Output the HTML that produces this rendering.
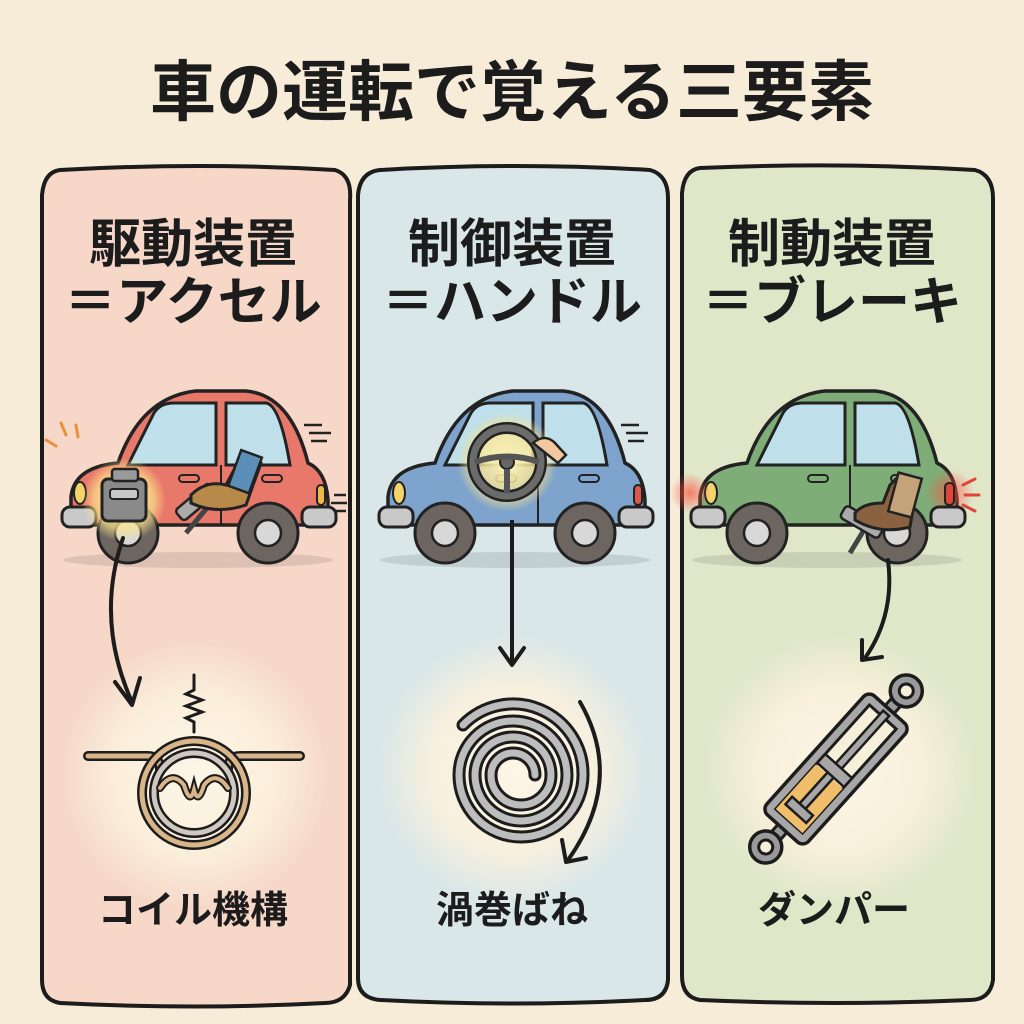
<!DOCTYPE html>
<html><head><meta charset="utf-8"><style>
html,body{margin:0;padding:0;background:#f7ecd7;}
svg{display:block}
text{font-family:"Liberation Sans","Noto Sans CJK JP",sans-serif;font-weight:bold;fill:#1c1c1c;text-anchor:middle}
</style></head><body>
<svg width="1024" height="1024" viewBox="0 0 1024 1024" xmlns="http://www.w3.org/2000/svg">
<defs>
<radialGradient id="glow"><stop offset="0" stop-color="#fdf6e6" stop-opacity="1"/><stop offset="0.6" stop-color="#fbf1dd" stop-opacity="0.9"/><stop offset="1" stop-color="#fbf1dd" stop-opacity="0"/></radialGradient>
<radialGradient id="yglow"><stop offset="0" stop-color="#fff6c0" stop-opacity="1"/><stop offset="0.7" stop-color="#fce38a" stop-opacity="0.7"/><stop offset="1" stop-color="#fce38a" stop-opacity="0"/></radialGradient>
<radialGradient id="rglow"><stop offset="0" stop-color="#ff5040" stop-opacity="0.7"/><stop offset="1" stop-color="#ff5040" stop-opacity="0"/></radialGradient>
<g id="wheels">
<ellipse cx="132" cy="175" rx="135" ry="8" fill="#000" opacity="0.1"/>
<rect x="-4" y="122" width="34" height="20" rx="8" fill="#c9c9c9" stroke="#222" stroke-width="3"/>
<rect x="236" y="122" width="34" height="20" rx="8" fill="#c9c9c9" stroke="#222" stroke-width="3"/>
<circle cx="62" cy="148" r="30" fill="#6d6560" stroke="#222" stroke-width="3"/>
<circle cx="62" cy="148" r="13" fill="#d8d8d8" stroke="#222" stroke-width="2.5"/>
<circle cx="202" cy="148" r="30" fill="#6d6560" stroke="#222" stroke-width="3"/>
<circle cx="202" cy="148" r="13" fill="#d8d8d8" stroke="#222" stroke-width="2.5"/>
</g>
<g id="glass">
<path d="M62,80 L88,28 Q94,18 108,18 L150,18 L150,80 Z" fill="#bfe0ea" stroke="#222" stroke-width="3"/>
<path d="M160,18 L200,18 Q214,20 224,80 L160,80 Z" fill="#bfe0ea" stroke="#222" stroke-width="3"/>
<line x1="155" y1="80" x2="155" y2="140" stroke="#222" stroke-width="2"/>
<rect x="113" y="90" width="20" height="7" rx="3.5" fill="none" stroke="#222" stroke-width="2"/>
<rect x="196" y="90" width="20" height="7" rx="3.5" fill="none" stroke="#222" stroke-width="2"/>
</g>
</defs>

<text x="512" y="115" font-size="66">車の運転で覚える三要素</text>

<!-- panels -->
<path d="M60,170 Q200,162 335,170 Q352,175 350,200 L350,985 Q345,1003 325,1003 Q195,1010 60,1003 Q42,1000 42,980 L42,195 Q44,172 60,170 Z" fill="#f6d7c8" stroke="#1c1c1c" stroke-width="4"/>
<path d="M380,170 Q515,162 650,170 Q668,175 668,198 L668,980 Q666,1000 645,1000 Q510,1007 380,1000 Q358,998 358,978 L358,195 Q360,172 380,170 Z" fill="#d9e7e8" stroke="#1c1c1c" stroke-width="4"/>
<path d="M700,168 Q840,162 975,170 Q993,175 993,198 L993,980 Q990,1000 970,1000 Q835,1006 700,1000 Q682,997 682,976 L682,193 Q684,170 700,168 Z" fill="#e0e7c9" stroke="#1c1c1c" stroke-width="4"/>

<circle cx="195" cy="775" r="135" fill="url(#glow)"/>
<circle cx="513" cy="770" r="135" fill="url(#glow)"/>
<circle cx="840" cy="770" r="135" fill="url(#glow)"/>

<text x="193" y="262" font-size="52">駆動装置</text>
<text x="193" y="320" font-size="52">＝アクセル</text>
<text x="512" y="262" font-size="52">制御装置</text>
<text x="512" y="320" font-size="52">＝ハンドル</text>
<text x="832" y="262" font-size="52">制動装置</text>
<text x="832" y="320" font-size="52">＝ブレーキ</text>

<text x="193" y="923" font-size="38">コイル機構</text>
<text x="512" y="923" font-size="38">渦巻ばね</text>
<text x="834" y="923" font-size="38">ダンパー</text>

<!-- red car -->
<g transform="translate(66,385)">
<path d="M5,140 L5,112 Q8,82 52,78 Q75,12 130,6 L180,6 Q225,10 242,78 Q260,86 262,115 L262,140 Z" fill="#e7786a" stroke="#222" stroke-width="3.5"/>
<use href="#glass"/>
<ellipse cx="14" cy="108" rx="6" ry="11" fill="#f3d36a" stroke="#222" stroke-width="2"/>
<rect x="251" y="100" width="8" height="20" rx="4" fill="#f0b84a" stroke="#222" stroke-width="2"/>
<use href="#wheels"/>
<circle cx="58" cy="115" r="42" fill="url(#yglow)"/>
<rect x="36" y="94" width="44" height="42" rx="6" fill="#8a8a8a" stroke="#222" stroke-width="3"/>
<rect x="46" y="84" width="26" height="12" rx="3" fill="#9a9a9a" stroke="#222" stroke-width="2.5"/>
<rect x="44" y="104" width="28" height="10" rx="3" fill="#c8c8c8" stroke="#222" stroke-width="2"/>
<path d="M120,148 L145,118" stroke="#444" stroke-width="5"/>
<rect x="108" y="110" width="44" height="14" rx="4" fill="#aaa" stroke="#222" stroke-width="2.5" transform="rotate(-40 130 117)"/>
<path d="M125,110 Q140,95 160,100 L168,85 L175,68 L195,78 L180,120 Q150,130 125,118 Z" fill="#b88a4a" stroke="#222" stroke-width="3"/>
<rect x="168" y="68" width="22" height="38" fill="#5b8fb8" stroke="#222" stroke-width="2.5" transform="rotate(20 180 87)"/>
<path d="M-20,55 l10,6 M-5,38 l5,12 M10,40 l2,12" stroke="#e8913a" stroke-width="3" stroke-linecap="round"/>
<path d="M238,40 h18 M243,48 h22 M245,56 h16 M268,110 h12 M265,118 h16 M268,126 h12" stroke="#222" stroke-width="2.5"/>
</g>

<!-- blue car -->
<g transform="translate(383,385)">
<path d="M5,140 L5,112 Q8,82 52,78 Q75,12 130,6 L180,6 Q225,10 242,78 Q260,86 262,115 L262,140 Z" fill="#7ea3cc" stroke="#222" stroke-width="3.5"/>
<use href="#glass"/>
<ellipse cx="16" cy="108" rx="6" ry="11" fill="#f3d36a" stroke="#222" stroke-width="2"/>
<rect x="251" y="100" width="8" height="20" rx="4" fill="#d9584c" stroke="#222" stroke-width="2"/>
<use href="#wheels"/>
<circle cx="124" cy="77" r="50" fill="url(#yglow)"/>
<circle cx="124" cy="77" r="34" fill="none" stroke="#222" stroke-width="12"/>
<circle cx="124" cy="77" r="34" fill="none" stroke="#6b6b6b" stroke-width="7"/>
<circle cx="124" cy="77" r="7" fill="#666" stroke="#222" stroke-width="2"/>
<path d="M92,77 Q124,66 156,77 M124,84 L124,108" stroke="#555" stroke-width="6" fill="none"/>
<path d="M150,58 Q162,48 172,58 L183,70 L175,78 Z" fill="#f3c7a0" stroke="#222" stroke-width="2.5"/>
<path d="M238,40 h18 M243,48 h22 M245,56 h16" stroke="#222" stroke-width="2.5"/>
</g>

<!-- green car -->
<g transform="translate(695,385)">
<path d="M5,140 L5,112 Q8,82 52,78 Q75,12 130,6 L180,6 Q225,10 242,78 Q260,86 262,115 L262,140 Z" fill="#7fad78" stroke="#222" stroke-width="3.5"/>
<use href="#glass"/>
<ellipse cx="16" cy="108" rx="6" ry="11" fill="#f3d36a" stroke="#222" stroke-width="2"/>
<circle cx="255" cy="108" r="24" fill="url(#rglow)"/>
<circle cx="-5" cy="108" r="20" fill="url(#rglow)"/>
<rect x="250" y="98" width="9" height="22" rx="4" fill="#e0453a" stroke="#222" stroke-width="2"/>
<use href="#wheels"/>
<path d="M155,168 L172,140" stroke="#444" stroke-width="5"/>
<rect x="145" y="130" width="44" height="14" rx="4" fill="#aaa" stroke="#222" stroke-width="2.5" transform="rotate(30 167 137)"/>
<path d="M160,128 Q168,118 188,118 L195,100 L205,90 L222,100 L215,142 Q185,150 160,135 Z" fill="#8a6240" stroke="#222" stroke-width="3"/>
<rect x="198" y="90" width="24" height="40" fill="#c4a27a" stroke="#222" stroke-width="2.5" transform="rotate(15 210 110)"/>
<path d="M268,100 l12,-6 M270,110 h14 M268,120 l12,6" stroke="#e0453a" stroke-width="3" stroke-linecap="round"/>
</g>

<!-- arrows -->
<path d="M123,538 Q95,620 132,702" fill="none" stroke="#1c1c1c" stroke-width="4" stroke-linecap="round"/>
<path d="M115,682 L132,705 L140,678" fill="none" stroke="#1c1c1c" stroke-width="4" stroke-linecap="round" stroke-linejoin="round"/>
<path d="M512,520 L512,662" stroke="#1c1c1c" stroke-width="4"/>
<path d="M500,648 L512,665 L524,648" fill="none" stroke="#1c1c1c" stroke-width="4" stroke-linecap="round" stroke-linejoin="round"/>
<path d="M888,560 Q895,615 865,658" fill="none" stroke="#1c1c1c" stroke-width="4" stroke-linecap="round"/>
<path d="M862,640 L862,660 L882,657" fill="none" stroke="#1c1c1c" stroke-width="4" stroke-linecap="round" stroke-linejoin="round"/>

<!-- coil -->
<g fill="none" stroke-linecap="round">
<path d="M194,675 L194,690 L186,694 L202,700 L186,706 L202,712 L186,718 L194,722 L194,732" stroke="#1c1c1c" stroke-width="3"/>
<path d="M88,756 L148,756 Q160,756 160,770" stroke="#1c1c1c" stroke-width="10"/>
<path d="M88,756 L148,756 Q160,756 160,770" stroke="#d9b58a" stroke-width="5"/>
<path d="M300,756 L240,756 Q228,756 228,770" stroke="#1c1c1c" stroke-width="10"/>
<path d="M300,756 L240,756 Q228,756 228,770" stroke="#d9b58a" stroke-width="5"/>
<circle cx="194" cy="793" r="52" stroke="#1c1c1c" stroke-width="10"/>
<circle cx="194" cy="793" r="52" stroke="#d9b58a" stroke-width="5"/>
<circle cx="194" cy="793" r="40" stroke="#1c1c1c" stroke-width="10"/>
<circle cx="194" cy="793" r="40" stroke="#cfc8c0" stroke-width="5"/>
<path d="M160,788 Q172,770 184,785 Q190,805 194,790 Q198,805 204,785 Q216,770 228,788" stroke="#1c1c1c" stroke-width="8"/>
<path d="M160,788 Q172,770 184,785 Q190,805 194,790 Q198,805 204,785 Q216,770 228,788" stroke="#d9b58a" stroke-width="4"/>
</g>

<!-- spiral -->
<g fill="none" stroke-linecap="round">
<path id="sp" d="M535,775 A22,22 0 0,0 491,775 A30,30 0 0,0 551,775 A38,38 0 0,0 475,775 A46,46 0 0,0 567,775 A54,54 0 0,0 459,775 A62,62 0 0,0 583,775 A70,70 0 0,0 463,725" stroke="#1c1c1c" stroke-width="13"/>
<path d="M535,775 A22,22 0 0,0 491,775 A30,30 0 0,0 551,775 A38,38 0 0,0 475,775 A46,46 0 0,0 567,775 A54,54 0 0,0 459,775 A62,62 0 0,0 583,775 A70,70 0 0,0 463,725" stroke="#bdbdbd" stroke-width="7"/>
<path d="M580,702 Q625,780 568,860" stroke="#1c1c1c" stroke-width="4"/>
<path d="M562,840 L566,862 L586,858" stroke="#1c1c1c" stroke-width="4" stroke-linejoin="round"/>
</g>

<!-- damper -->
<g transform="translate(836,769) rotate(-48)">
<rect x="70" y="-6" width="30" height="12" fill="#9a9a9a" stroke="#1c1c1c" stroke-width="3"/>
<rect x="-100" y="-6" width="30" height="12" fill="#9a9a9a" stroke="#1c1c1c" stroke-width="3"/>
<circle cx="105" cy="0" r="16" fill="#9a9a9a" stroke="#1c1c1c" stroke-width="3.5"/><circle cx="105" cy="0" r="7" fill="#f6efd9" stroke="#1c1c1c" stroke-width="3"/>
<circle cx="-105" cy="0" r="16" fill="#9a9a9a" stroke="#1c1c1c" stroke-width="3.5"/><circle cx="-105" cy="0" r="7" fill="#f6efd9" stroke="#1c1c1c" stroke-width="3"/>
<rect x="-80" y="-28" width="160" height="56" rx="8" fill="#a7a7a7" stroke="#1c1c1c" stroke-width="3.5"/>
<rect x="-70" y="-18" width="140" height="36" fill="#f6efd9" stroke="#1c1c1c" stroke-width="3"/>
<rect x="-70" y="-18" width="60" height="36" fill="#f0be6a"/>
<rect x="-55" y="-4" width="130" height="8" fill="#a7a7a7" stroke="#1c1c1c" stroke-width="2.5"/>
<rect x="-60" y="-14" width="10" height="28" fill="#a7a7a7" stroke="#1c1c1c" stroke-width="2.5"/>
<rect x="-8" y="-18" width="12" height="36" fill="#a7a7a7" stroke="#1c1c1c" stroke-width="2.5"/>
</g>
</svg>
</body></html>
